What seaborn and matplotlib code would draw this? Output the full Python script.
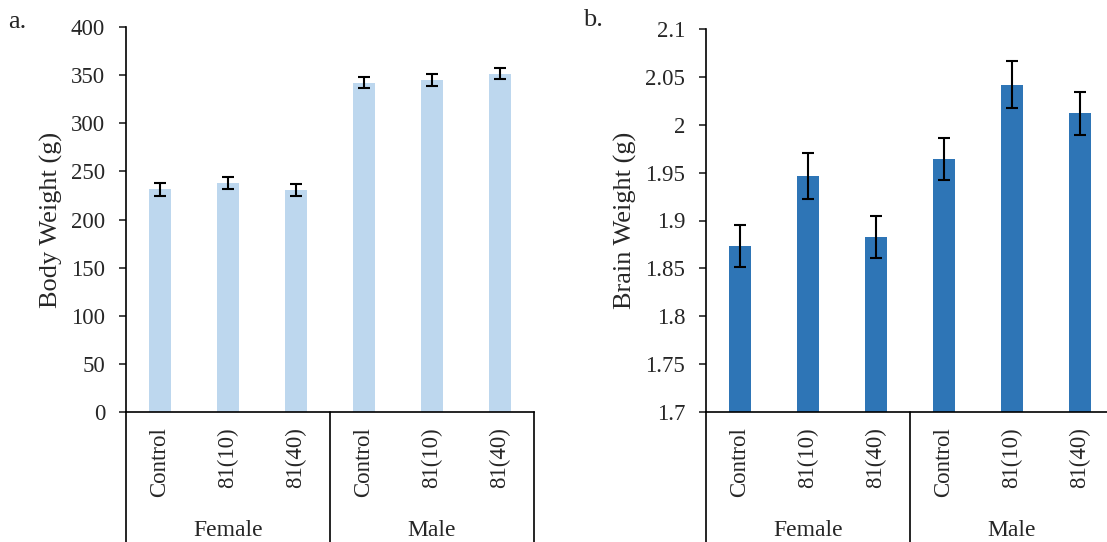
import numpy as np
import pandas as pd
import matplotlib
matplotlib.use("Agg")
import matplotlib.pyplot as plt
import matplotlib.transforms as mtransforms
import seaborn as sns

groups = ["Female", "Female", "Female", "Male", "Male", "Male"]
treatments = ["Control", "81(10)", "81(40)", "Control", "81(10)", "81(40)"]

body_weight = [231.3, 237.6, 230.8, 342.3, 345.4, 351.5]
body_err = [6.4, 6.2, 6.4, 6.0, 6.2, 6.0]

brain_weight = [1.873, 1.946, 1.883, 1.964, 2.042, 2.012]
brain_err = [0.022, 0.024, 0.022, 0.022, 0.025, 0.0225]

sns.set_style("white")
plt.rcParams["font.family"] = ["Liberation Serif", "DejaVu Serif"]
plt.rcParams["axes.linewidth"] = 1.2

df = pd.DataFrame({
    "group": groups,
    "treatment": treatments,
    "key": [g + " " + t for g, t in zip(groups, treatments)],
    "body": body_weight,
    "body_err": body_err,
    "brain": brain_weight,
    "brain_err": brain_err,
})

W, H = 1107, 542
fig = plt.figure(figsize=(W / 100, H / 100), dpi=100)

def panel(rect, col, err_col, color, ylim, yticks, ticklabels, ylabel, letter, letter_xy):
    ax = fig.add_axes(rect)
    sns.barplot(data=df, x="key", y=col, order=list(df["key"]), color=color,
                width=0.31, errorbar=None, saturation=1, ax=ax, edgecolor="none")
    ax.errorbar(np.arange(len(df)), df[col], yerr=df[err_col], fmt="none",
                ecolor="black", elinewidth=1.5, capsize=4.3, capthick=1.5)
    ax.set_xlim(-0.5, len(df) - 0.5)
    ax.set_ylim(*ylim)
    ax.set_yticks(yticks)
    ax.set_yticklabels(ticklabels, fontsize=16.5)
    ax.tick_params(axis="y", direction="out", length=5, width=1.2, left=True, pad=10)
    ax.tick_params(axis="x", length=0, pad=11)
    ax.set_xticks(np.arange(len(df)))
    ax.set_xticklabels(df["treatment"], rotation=90, fontsize=16.5, va="top")
    ax.set_xlabel("")
    ax.set_ylabel(ylabel, fontsize=19, labelpad=6)
    for s in ["top", "right"]:
        ax.spines[s].set_visible(False)
    ax.spines["left"].set_color("black")
    ax.spines["bottom"].set_color("black")

    # category separators extending below the axis
    trans = mtransforms.blended_transform_factory(ax.transData, ax.transAxes)
    bottom_frac = -rect[1] / rect[3]
    for xpos in [-0.5, 2.5, 5.5]:
        ax.plot([xpos, xpos], [0, bottom_frac], transform=trans, color="black",
                lw=1.2, clip_on=False)
    for gname, xc in [("Female", 1.0), ("Male", 4.0)]:
        ax.text(xc, bottom_frac + 12 / (rect[3] * H), gname, transform=trans,
                ha="center", va="center", fontsize=17)
    fig.text(letter_xy[0], letter_xy[1], letter, fontsize=19, ha="left", va="center")
    return ax

panel([126 / W, (H - 412) / H, 408 / W, 385 / H], "body", "body_err", "#BDD7EE",
      (0, 400), np.arange(0, 401, 50), [str(v) for v in range(0, 401, 50)],
      "Body Weight (g)", "a.", (8 / W, 1 - 22 / H))

brain_ticks = [1.7, 1.75, 1.8, 1.85, 1.9, 1.95, 2.0, 2.05, 2.1]
brain_labels = ["1.7", "1.75", "1.8", "1.85", "1.9", "1.95", "2", "2.05", "2.1"]
panel([706 / W, (H - 412) / H, 408 / W, 383 / H], "brain", "brain_err", "#2E75B6",
      (1.7, 2.1), brain_ticks, brain_labels,
      "Brain Weight (g)", "b.", (583 / W, 1 - 20 / H))

fig.savefig("out.png", dpi=100)
